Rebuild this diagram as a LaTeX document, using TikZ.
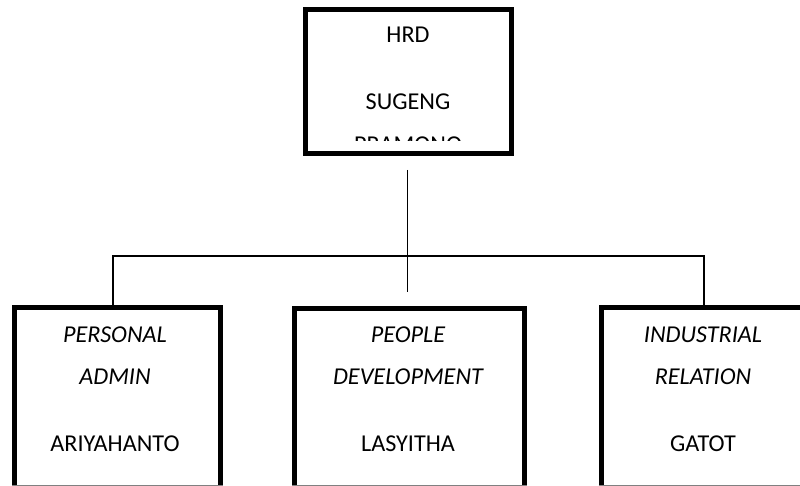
\documentclass[tikz,border=0pt]{standalone}
\usepackage{fontspec}
\setmainfont{Carlito}
\usepackage{tikz}
\usetikzlibrary{calc}

\begin{document}
\begin{tikzpicture}[x=1pt, y=-1pt,
  box/.style={draw, line width=5pt, inner sep=0pt, rectangle},
  lbl/.style={anchor=base, inner sep=0pt, font=\fontsize{24.2}{28}\selectfont},
  unit/.style={lbl, font=\fontsize{24.2}{28}\selectfont\itshape},
  wire/.style={line width=1.3pt}]

% Frame
\useasboundingbox (0,0) rectangle (800,486);
\clip (0,0) rectangle (800,486);

% Top box
\node[box, minimum width=205.5pt, minimum height=143.5pt] (hrd) at (408.25,81.75) {};
\node[lbl] (hrdtitle) at (408,43) {HRD};
\node[lbl] (hrdname) at (408,110) {SUGENG};
\begin{scope}
  \clip (300,0) rectangle (520,141);
  \node[lbl] (hrdname2) at (408,153) {PRAMONO};
\end{scope}

% Bottom boxes
\node[box, minimum width=206pt, minimum height=213pt] (pa) at (117.5,413.5) {};
\node[box, minimum width=229.5pt, minimum height=211pt] (pd) at (409.25,413.5) {};
\node[box, minimum width=204pt, minimum height=212pt] (ir) at (703,413.5) {};

% Cut edge
\foreach \b in {pa,pd,ir}
  \draw[gray, line width=0.8pt] (\b.west |- 0,485.4) -- (\b.east |- 0,485.4);

% Labels
\node[unit] (pa1) at (115,342) {PERSONAL};
\node[unit] (pa2) at (115,384.5) {ADMIN};
\node[lbl] (pa3) at (115,451) {ARIYAHANTO};

\node[unit] (pd1) at (408,342) {PEOPLE};
\node[unit] (pd2) at (408,384.5) {DEVELOPMENT};
\node[lbl] (pd3) at (408,451) {LASYITHA};

\node[unit] (ir1) at (703,342) {INDUSTRIAL};
\node[unit] (ir2) at (703,384.5) {RELATION};
\node[lbl] (ir3) at (703,451) {GATOT};

% Connectors
\coordinate (trunk) at (407.5,170);
\coordinate (trunkend) at (407.5,292);
\coordinate (busl) at (113,256);
\coordinate (busr) at (704,256);

\draw[wire] (trunk) -- (trunkend);
\draw[wire] (pa.north -| busl) -- (busl) -- (busr) -- (ir.north -| busr);

\end{tikzpicture}
\end{document}
